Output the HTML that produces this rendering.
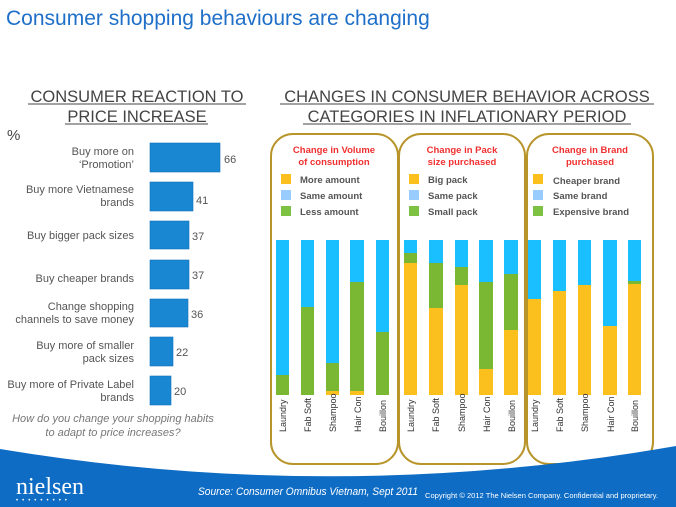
<!DOCTYPE html>
<html><head><style>body{margin:0;background:#fff}svg{display:block}text{font-family:"Liberation Sans",Arial,sans-serif}</style></head>
<body>
<svg width="676" height="507" viewBox="0 0 676 507" xmlns="http://www.w3.org/2000/svg">
<text x="6" y="25" font-size="21" fill="#1f6fc9">Consumer shopping behaviours are changing</text>
<g font-size="16.5" fill="#444" text-anchor="middle">
<text x="137" y="102">CONSUMER REACTION TO</text>
<text x="137" y="122">PRICE INCREASE</text>
<text x="467" y="102">CHANGES IN CONSUMER BEHAVIOR ACROSS</text>
<text x="467" y="122">CATEGORIES IN INFLATIONARY PERIOD</text>
</g>
<g stroke="#444" stroke-width="1">
<line x1="28" y1="104" x2="246" y2="104"/><line x1="65" y1="124" x2="208" y2="124"/>
<line x1="280" y1="104" x2="654" y2="104"/><line x1="303" y1="124" x2="631" y2="124"/>
</g>
<text x="7" y="140" font-size="15" fill="#444">%</text>
<g fill="#1a87d2" stroke="#1070b8" stroke-width="0.6">
<rect x="150" y="143" width="70" height="29"/><rect x="150" y="182" width="43" height="29"/>
<rect x="150" y="221" width="39" height="28"/><rect x="150" y="260" width="39" height="29"/>
<rect x="150" y="299" width="38" height="28"/><rect x="150" y="337" width="23" height="29"/>
<rect x="150" y="376" width="21" height="29"/>
</g>
<g font-size="11" fill="#555">
<text x="224" y="163">66</text><text x="196" y="204">41</text><text x="192" y="240">37</text>
<text x="192" y="279">37</text><text x="191" y="318">36</text><text x="176" y="356">22</text><text x="174" y="395">20</text>
</g>
<g font-size="11" fill="#555" text-anchor="end">
<text x="134" y="155">Buy more on</text><text x="134" y="168">‘Promotion’</text>
<text x="134" y="193">Buy more Vietnamese</text><text x="134" y="206">brands</text>
<text x="134" y="239">Buy bigger pack sizes</text>
<text x="134" y="282">Buy cheaper brands</text>
<text x="134" y="310">Change shopping</text><text x="134" y="323">channels to save money</text>
<text x="134" y="349">Buy more of smaller</text><text x="134" y="362">pack sizes</text>
<text x="134" y="388">Buy more of Private Label</text><text x="134" y="401">brands</text>
</g>
<g font-size="11" fill="#777" font-style="italic" text-anchor="middle">
<text x="113" y="422">How do you change your shopping habits</text>
<text x="113" y="436">to adapt to price increases?</text>
</g>
<g fill="none" stroke="#b8952a" stroke-width="2">
<rect x="271" y="134" width="127" height="330" rx="22"/>
<rect x="399" y="134" width="126" height="330" rx="22"/>
<rect x="527" y="134" width="126" height="330" rx="22"/>
</g>
<g font-size="9.5" font-weight="bold" fill="#f03030" text-anchor="middle">
<text x="334" y="153">Change in Volume</text><text x="334" y="165">of consumption</text>
<text x="462" y="153">Change in Pack</text><text x="462" y="165">size purchased</text>
<text x="590" y="153">Change in Brand</text><text x="590" y="165">purchased</text>
</g>
<g>
<rect x="281" y="174" width="10" height="10" fill="#fcc01e"/><rect x="281" y="190" width="10" height="10" fill="#99ccff"/><rect x="281" y="206" width="10" height="10" fill="#7dc242"/>
<rect x="409" y="174" width="10" height="10" fill="#fcc01e"/><rect x="409" y="190" width="10" height="10" fill="#99ccff"/><rect x="409" y="206" width="10" height="10" fill="#7dc242"/>
<rect x="533" y="174" width="10" height="10" fill="#fcc01e"/><rect x="533" y="190" width="10" height="10" fill="#99ccff"/><rect x="533" y="206" width="10" height="10" fill="#7dc242"/>
</g>
<g font-size="9.5" font-weight="bold" fill="#555">
<text x="300" y="183">More amount</text><text x="300" y="199">Same amount</text><text x="300" y="215">Less amount</text>
<text x="428" y="183">Big pack</text><text x="428" y="199">Same pack</text><text x="428" y="215">Small pack</text>
<text x="553" y="184">Cheaper brand</text><text x="553" y="199">Same brand</text><text x="553" y="215">Expensive brand</text>
</g>
<g>
<rect x="276" y="240" width="13" height="155" fill="#19bfff"/><rect x="276" y="375" width="13" height="20" fill="#7ab833"/>
<rect x="301" y="240" width="13" height="155" fill="#19bfff"/><rect x="301" y="307" width="13" height="88" fill="#7ab833"/>
<rect x="326" y="240" width="13" height="155" fill="#19bfff"/><rect x="326" y="363" width="13" height="28" fill="#7ab833"/><rect x="326" y="391" width="13" height="4" fill="#fcc01e"/>
<rect x="350" y="240" width="14" height="155" fill="#19bfff"/><rect x="350" y="282" width="14" height="109" fill="#7ab833"/><rect x="350" y="391" width="14" height="4" fill="#fcc01e"/>
<rect x="376" y="240" width="13" height="155" fill="#19bfff"/><rect x="376" y="332" width="13" height="63" fill="#7ab833"/>
<rect x="404" y="240" width="13" height="155" fill="#19bfff"/><rect x="404" y="253" width="13" height="10" fill="#7ab833"/><rect x="404" y="263" width="13" height="132" fill="#fcc01e"/>
<rect x="429" y="240" width="14" height="155" fill="#19bfff"/><rect x="429" y="263" width="14" height="45" fill="#7ab833"/><rect x="429" y="308" width="14" height="87" fill="#fcc01e"/>
<rect x="455" y="240" width="13" height="155" fill="#19bfff"/><rect x="455" y="267" width="13" height="18" fill="#7ab833"/><rect x="455" y="285" width="13" height="110" fill="#fcc01e"/>
<rect x="479" y="240" width="14" height="155" fill="#19bfff"/><rect x="479" y="282" width="14" height="87" fill="#7ab833"/><rect x="479" y="369" width="14" height="26" fill="#fcc01e"/>
<rect x="504" y="240" width="14" height="155" fill="#19bfff"/><rect x="504" y="274" width="14" height="56" fill="#7ab833"/><rect x="504" y="330" width="14" height="65" fill="#fcc01e"/>
<rect x="528" y="240" width="13" height="155" fill="#19bfff"/><rect x="528" y="299" width="13" height="96" fill="#fcc01e"/>
<rect x="553" y="240" width="13" height="155" fill="#19bfff"/><rect x="553" y="291" width="13" height="104" fill="#fcc01e"/>
<rect x="578" y="240" width="13" height="155" fill="#19bfff"/><rect x="578" y="285" width="13" height="110" fill="#fcc01e"/>
<rect x="603" y="240" width="14" height="155" fill="#19bfff"/><rect x="603" y="326" width="14" height="69" fill="#fcc01e"/>
<rect x="628" y="240" width="13" height="155" fill="#19bfff"/><rect x="628" y="281" width="13" height="3" fill="#7ab833"/><rect x="628" y="284" width="13" height="111" fill="#fcc01e"/>
</g>
<g font-size="9" fill="#333">
<text transform="translate(286,432) rotate(-90)">Laundry</text><text transform="translate(311,432) rotate(-90)">Fab Soft</text><text transform="translate(336,432) rotate(-90)">Shampoo</text><text transform="translate(361,432) rotate(-90)">Hair Con</text><text transform="translate(386,432) rotate(-90)">Bouillon</text>
<text transform="translate(414,432) rotate(-90)">Laundry</text><text transform="translate(439,432) rotate(-90)">Fab Soft</text><text transform="translate(465,432) rotate(-90)">Shampoo</text><text transform="translate(490,432) rotate(-90)">Hair Con</text><text transform="translate(515,432) rotate(-90)">Bouillon</text>
<text transform="translate(538,432) rotate(-90)">Laundry</text><text transform="translate(563,432) rotate(-90)">Fab Soft</text><text transform="translate(588,432) rotate(-90)">Shampoo</text><text transform="translate(614,432) rotate(-90)">Hair Con</text><text transform="translate(638,432) rotate(-90)">Bouillon</text>
</g>
<path d="M0,449 Q338,505 676,446 L676,507 L0,507 Z" fill="#0e6cc4"/>
<text x="16" y="494" font-size="24" fill="#fff" style="font-family:'Liberation Serif',serif">nielsen</text>
<text x="16" y="502" font-size="6" fill="#fff" letter-spacing="4">•••••••••</text>
<text x="198" y="495" font-size="11" font-style="italic" fill="#fff" textLength="220" lengthAdjust="spacingAndGlyphs">Source: Consumer Omnibus Vietnam, Sept 2011</text>
<text x="425" y="498" font-size="7.5" fill="#fff" textLength="233" lengthAdjust="spacingAndGlyphs">Copyright © 2012 The Nielsen Company. Confidential and proprietary.</text>
</svg>
</body></html>
